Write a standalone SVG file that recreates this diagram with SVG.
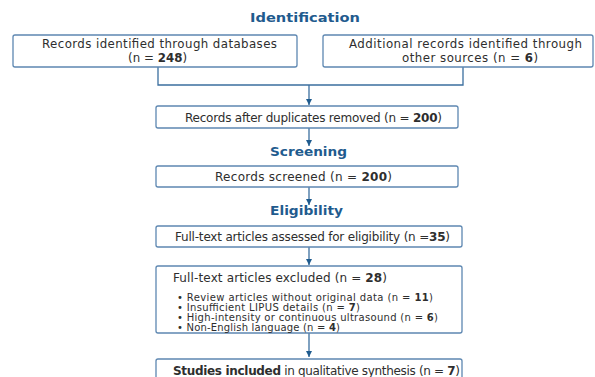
<svg xmlns="http://www.w3.org/2000/svg" width="595" height="377" viewBox="0 0 595 377">
<style>
.bg{fill:#ffffff}
.box{fill:#ffffff;stroke:#5d87b1;stroke-width:1.3}
.ttl{font-family:"DejaVu Sans",Verdana,sans-serif;font-weight:bold;font-size:13px;fill:#1f5b8e}
.t{font-family:"DejaVu Sans",Verdana,sans-serif;font-size:12px;fill:#2e2e2e}
.m{font-size:11.8px}
.s{font-size:10px}
.b{font-weight:bold}
.ln{fill:none;stroke:#3b6f9f;stroke-width:1.3}
</style>
<defs>
<marker id="arr" viewBox="0 0 10 10" refX="10" refY="5" markerWidth="8" markerHeight="6" orient="auto" markerUnits="userSpaceOnUse">
<path d="M0,0 L10,5 L0,10 z" fill="#1f5b8e"/>
</marker>
</defs>
<rect class="bg" x="0" y="0" width="595" height="377"/>
<text class="ttl" x="250" y="22" textLength="110" lengthAdjust="spacingAndGlyphs">Identification</text>
<text class="ttl" x="270" y="156" textLength="77" lengthAdjust="spacingAndGlyphs">Screening</text>
<text class="ttl" x="270" y="215" textLength="73" lengthAdjust="spacingAndGlyphs">Eligibility</text>
<g id="connectors">
<polyline class="ln" points="158,67 158,85 463,85 463,67"/>
<line class="ln" x1="309" y1="85" x2="309" y2="105" marker-end="url(#arr)"/>
<line class="ln" x1="309" y1="128" x2="309" y2="146" marker-end="url(#arr)"/>
<line class="ln" x1="309" y1="187" x2="309" y2="205" marker-end="url(#arr)"/>
<line class="ln" x1="309" y1="247" x2="309" y2="265" marker-end="url(#arr)"/>
<line class="ln" x1="309" y1="333" x2="309" y2="357" marker-end="url(#arr)"/>
</g>
<g id="db">
<rect class="box" x="13" y="35" width="284" height="32" rx="2"/>
<text class="t m" x="42" y="47.5" textLength="235" lengthAdjust="spacing">Records identified through databases</text>
<text class="t m" x="128" y="61.5" textLength="59" lengthAdjust="spacing">(n = <tspan class="b">248</tspan>)</text>
</g>
<g id="other">
<rect class="box" x="323" y="35" width="270" height="32" rx="2"/>
<text class="t m" x="349" y="47.5" textLength="233" lengthAdjust="spacing">Additional records identified through</text>
<text class="t m" x="402" y="61.5" textLength="136" lengthAdjust="spacing">other sources (n = <tspan class="b">6</tspan>)</text>
</g>
<g id="dup">
<rect class="box" x="156" y="106" width="302" height="22" rx="2"/>
<text class="t" x="185" y="121.5" textLength="257" lengthAdjust="spacing">Records after duplicates removed (n = <tspan class="b">200</tspan>)</text>
</g>
<g id="screened">
<rect class="box" x="156" y="166" width="302" height="21" rx="2"/>
<text class="t" x="215" y="181" textLength="177" lengthAdjust="spacing">Records screened (n = <tspan class="b">200</tspan>)</text>
</g>
<g id="assessed">
<rect class="box" x="156" y="226" width="306" height="21" rx="2"/>
<text class="t" x="175" y="241" textLength="275" lengthAdjust="spacing">Full-text articles assessed for eligibility (n =<tspan class="b">35</tspan>)</text>
</g>
<g id="excluded">
<rect class="box" x="156" y="266" width="306" height="67" rx="2"/>
<text class="t" x="173" y="282" textLength="214" lengthAdjust="spacing">Full-text articles excluded (n = <tspan class="b">28</tspan>)</text>
<text class="t s" x="177" y="300.5" textLength="256" lengthAdjust="spacing">• Review articles without original data (n = <tspan class="b">11</tspan>)</text>
<text class="t s" x="177" y="310.5" textLength="183" lengthAdjust="spacing">• Insufficient LIPUS details (n = <tspan class="b">7</tspan>)</text>
<text class="t s" x="177" y="320.5" textLength="261" lengthAdjust="spacing">• High-intensity or continuous ultrasound (n = <tspan class="b">6</tspan>)</text>
<text class="t s" x="177" y="330.5" textLength="163" lengthAdjust="spacing">• Non-English language (n = <tspan class="b">4</tspan>)</text>
</g>
<g id="included">
<rect class="box" x="156" y="359" width="306" height="30" rx="2"/>
<text class="t" x="173" y="375" textLength="287" lengthAdjust="spacing"><tspan class="b">Studies included</tspan> in qualitative synthesis (n = <tspan class="b">7</tspan>)</text>
</g>
</svg>
